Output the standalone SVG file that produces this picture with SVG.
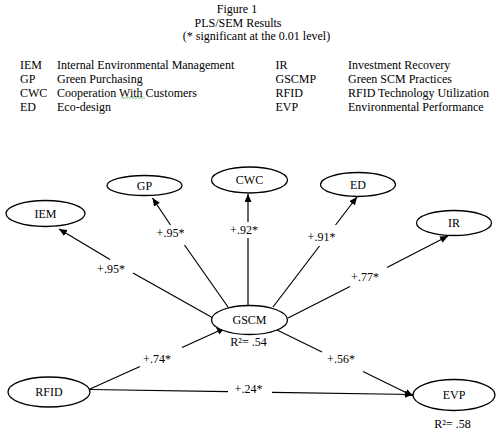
<svg xmlns="http://www.w3.org/2000/svg" width="500" height="432" viewBox="0 0 500 432">
<style>
text{font-family:"Liberation Serif","Times New Roman",serif;font-size:12px;fill:#000}
.c{text-anchor:middle}
.n ellipse{fill:#fff;stroke:#000;stroke-width:1.3}
#edges path{fill:none;stroke:#000;stroke-width:1.2}
</style>
<defs>
<marker id="ah" markerUnits="userSpaceOnUse" markerWidth="9" markerHeight="8" refX="8" refY="3.5" orient="auto">
<path d="M0,0 L8,3.5 L0,7 z" fill="#000"/>
</marker>
</defs>
<rect width="500" height="432" fill="#fff"/>
<g id="title">
<text class="c" x="237" y="12.5">Figure 1</text>
<text class="c" x="238" y="26.5">PLS/SEM Results</text>
<text class="c" x="256.5" y="40">(* significant at the 0.01 level)</text>
</g>
<g id="legend">
<text x="20" y="68.5">IEM</text><text x="57" y="68.5">Internal Environmental Management</text>
<text x="20" y="82.5">GP</text><text x="57" y="82.5">Green Purchasing</text>
<text x="20" y="96.5">CWC</text><text x="57" y="96.5">Cooperation With Customers</text>
<text x="20" y="110.5">ED</text><text x="57" y="110.5">Eco-design</text>
<text x="275.5" y="68.5">IR</text><text x="348" y="68.5">Investment Recovery</text>
<text x="275.5" y="82.5">GSCMP</text><text x="348" y="82.5">Green SCM Practices</text>
<text x="275.5" y="96.5">RFID</text><text x="348" y="96.5">RFID Technology Utilization</text>
<text x="275.5" y="110.5">EVP</text><text x="348" y="110.5">Environmental Performance</text>
<path d="M121,98.5 l1.5,-1 l1.5,1 l1.5,-1 l1.5,1 l1.5,-1 l1.5,1 l1.5,-1 l1.5,1 l1.5,-1 l1.5,1 l1.5,-1 l1.5,1 l1.5,-1 l1.5,1 l1.5,-1 l1.5,1" fill="none" stroke="#5cb85c" stroke-width="0.8"/>
</g>
<g id="edges">
<path d="M213,318 L133,273 M110,259.5 L59,229" marker-end="url(#ah)"/>
<path d="M228,307 L184.5,245 M170.5,225 L152.5,198" marker-end="url(#ah)"/>
<path d="M248,306 L248,238 M248,222 L248,194" marker-end="url(#ah)"/>
<path d="M273,307 L319.5,246 M335.5,225 L357,197" marker-end="url(#ah)"/>
<path d="M288,318 L350,286.5 M387,267.5 L448,236" marker-end="url(#ah)"/>
<path d="M90,389 L140,366.5 M182,347.5 L225,328" marker-end="url(#ah)"/>
<path d="M90,389.5 L228,391.7 M272,392.3 L413,394.5" marker-end="url(#ah)"/>
<path d="M275,329 L322,352 M363,371.5 L413,396" marker-end="url(#ah)"/>
</g>
<g id="edge-labels">
<text class="c" x="111" y="273">+.95*</text>
<text class="c" x="170.5" y="237">+.95*</text>
<text class="c" x="244" y="233.5">+.92*</text>
<text class="c" x="321.5" y="241">+.91*</text>
<text class="c" x="365" y="281">+.77*</text>
<text class="c" x="157" y="363">+.74*</text>
<text class="c" x="341" y="363">+.56*</text>
<text class="c" x="248.5" y="393">+.24*</text>
</g>
<g id="IEM" class="n"><ellipse cx="45.5" cy="213.5" rx="39.5" ry="13"/><text class="c" x="45.5" y="217.5">IEM</text></g>
<g id="GP" class="n"><ellipse cx="144.5" cy="185.5" rx="37.5" ry="10"/><text class="c" x="144.5" y="189.5">GP</text></g>
<g id="CWC" class="n"><ellipse cx="249.5" cy="180" rx="38" ry="13"/><text class="c" x="249.5" y="184">CWC</text></g>
<g id="ED" class="n"><ellipse cx="358" cy="184.5" rx="37.5" ry="12"/><text class="c" x="358" y="188.5">ED</text></g>
<g id="IR" class="n"><ellipse cx="454" cy="223" rx="37.5" ry="12.5"/><text class="c" x="454" y="227">IR</text></g>
<g id="GSCM" class="n"><ellipse cx="249.5" cy="320" rx="38" ry="14.5"/><text class="c" x="249.5" y="324">GSCM</text><text class="c" x="248.5" y="346">R²= .54</text></g>
<g id="RFID" class="n"><ellipse cx="49" cy="392" rx="41" ry="15"/><text class="c" x="49" y="396">RFID</text></g>
<g id="EVP" class="n"><ellipse cx="454" cy="395" rx="41" ry="15.5"/><text class="c" x="454" y="399">EVP</text><text class="c" x="452.5" y="428">R²= .58</text></g>
</svg>
